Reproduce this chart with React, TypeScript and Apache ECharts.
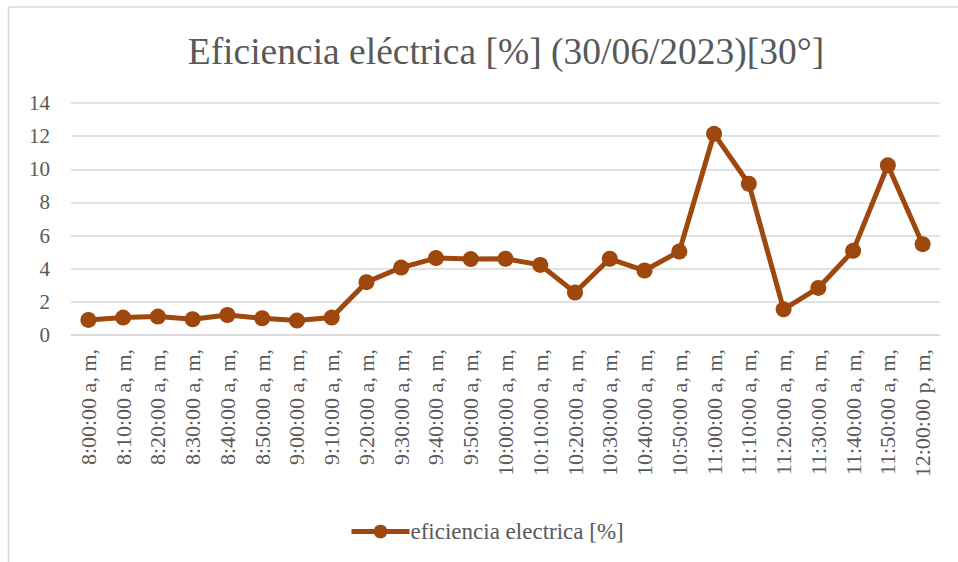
import React, { useEffect, useRef } from "react";
import * as echarts from "echarts";

const categories = [
  "8:00:00 a, m,", "8:10:00 a, m,", "8:20:00 a, m,", "8:30:00 a, m,", "8:40:00 a, m,",
  "8:50:00 a, m,", "9:00:00 a, m,", "9:10:00 a, m,", "9:20:00 a, m,", "9:30:00 a, m,",
  "9:40:00 a, m,", "9:50:00 a, m,", "10:00:00 a, m,", "10:10:00 a, m,", "10:20:00 a, m,",
  "10:30:00 a, m,", "10:40:00 a, m,", "10:50:00 a, m,", "11:00:00 a, m,", "11:10:00 a, m,",
  "11:20:00 a, m,", "11:30:00 a, m,", "11:40:00 a, m,", "11:50:00 a, m,", "12:00:00 p, m,",
];

const eficiencia = [
  0.91, 1.05, 1.11, 0.95, 1.21, 1.01, 0.87, 1.05, 3.19, 4.07,
  4.64, 4.58, 4.6, 4.23, 2.56, 4.6, 3.89, 5.04, 12.14, 9.13,
  1.55, 2.84, 5.08, 10.24, 5.48,
];

const seriesName = "eficiencia electrica [%]";
const titleText = "Eficiencia eléctrica [%] (30/06/2023)[30°]";

const FONT = "Liberation Serif";
const TEXT = "#595959";
const LINE = "#9E480E";
const GRID = "#D9D9D9";

export default function App() {
  const ref = useRef<HTMLDivElement>(null);
  useEffect(() => {
    if (!ref.current) return;
    const chart = echarts.init(ref.current, undefined, { renderer: "svg" });
    chart.setOption({
      animation: false,
      backgroundColor: "#ffffff",
      textStyle: { fontFamily: FONT },
      title: {
        text: titleText,
        left: 501,
        top: 27,
        textAlign: "center",
        textStyle: { fontFamily: FONT, fontSize: 37.5, fontWeight: "normal", color: TEXT },
      },
      graphic: [
        { type: "line", shape: { x1: 8.5, y1: 7, x2: 8.5, y2: 562 }, style: { stroke: GRID, lineWidth: 1.5 } },
        { type: "line", shape: { x1: 8.5, y1: 7, x2: 958, y2: 7 }, style: { stroke: GRID, lineWidth: 1.5 } },
      ],
      legend: {
        data: [seriesName],
        left: 344,
        top: 515,
        itemWidth: 58,
        itemHeight: 17,
        itemGap: 2,
        lineStyle: { width: 5 },
        textStyle: { fontFamily: FONT, fontSize: 23, color: TEXT, padding: [0, 0, 0, -4] },
      },
      grid: { left: 71, right: 18, top: 103, bottom: 227, containLabel: false },
      xAxis: {
        type: "category",
        data: categories,
        boundaryGap: true,
        axisLine: { show: true, lineStyle: { color: GRID, width: 1.5 } },
        axisTick: { show: false },
        axisLabel: {
          rotate: 90,
          interval: 0,
          margin: 14,
          fontFamily: FONT,
          fontSize: 22,
          color: TEXT,
        },
      },
      yAxis: {
        type: "value",
        min: 0,
        max: 14,
        interval: 2,
        axisLine: { show: false },
        axisTick: { show: false },
        axisLabel: { margin: 21, fontFamily: FONT, fontSize: 21, color: TEXT },
        splitLine: { show: true, lineStyle: { color: GRID, width: 1.5 } },
      },
      series: [
        {
          name: seriesName,
          type: "line",
          data: eficiencia,
          symbol: "circle",
          symbolSize: 16,
          lineStyle: { color: LINE, width: 5 },
          itemStyle: { color: LINE },
        },
      ],
    });
    return () => chart.dispose();
  }, []);
  return (
    <div
      ref={ref}
      style={{ position: "fixed", left: 0, top: 0, width: 958, height: 562 }}
    />
  );
}
